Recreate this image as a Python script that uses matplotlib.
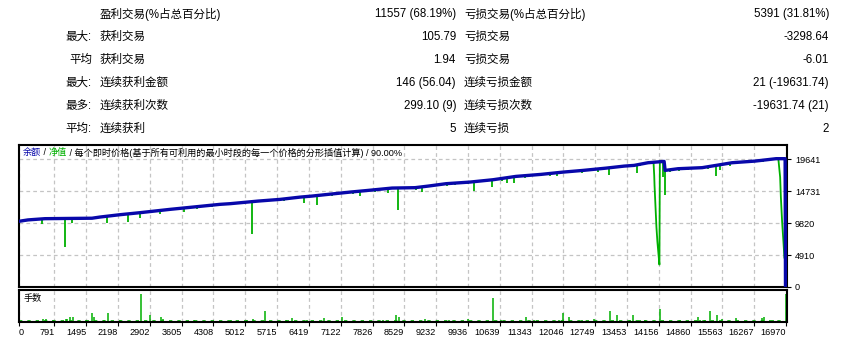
import numpy as np
import matplotlib.pyplot as plt

plt.rcParams['font.family'] = ['Liberation Sans', 'Noto Sans CJK SC', 'DejaVu Sans']

# Tableau du haut
row_prefix = ['', '最大:', '平均', '最大:', '最多:', '平均:']
win_labels = ['盈利交易(%占总百分比)', '获利交易', '获利交易', '连续获利金额', '连续获利次数', '连续获利']
win_values = ['11557 (68.19%)', '105.79', '1.94', '146 (56.04)', '299.10 (9)', '5']
loss_labels = ['亏损交易(%占总百分比)', '亏损交易', '亏损交易', '连续亏损金额', '连续亏损次数', '连续亏损']
loss_values = ['5391 (31.81%)', '-3298.64', '-6.01', '21 (-19631.74)', '-19631.74 (21)', '2']

# Courbe du solde (余额)
bal_x = [0, 206, 582, 1621, 1798, 2241, 2683, 3347, 4010, 4453, 4674, 5293, 5780, 6223,
         6488, 6842, 7329, 7727, 8258, 8766, 9054, 9452, 9983, 10492, 10997, 11553,
         12040, 12482, 12991, 13389, 13610, 13920, 14274, 14296, 14583, 15114, 15424,
         15778, 16287, 16751, 16950, 16958]
bal_y = [10080, 10300, 10490, 10560, 10740, 11100, 11410, 11920, 12380, 12690, 12790,
         13190, 13450, 13800, 13960, 14220, 14570, 14830, 15190, 15250, 15490, 15860,
         16110, 16470, 16980, 17290, 17640, 17900, 18250, 18560, 18670, 19080, 19280,
         17900, 18160, 18320, 18670, 19080, 19330, 19700, 19700, 0]

# Creux de l'equite (净值)
dip_x = [522, 870, 1024, 1186, 1645, 1960, 2287, 2424, 2690, 3126, 3656, 3945, 4280,
         5161, 5875, 6317, 6598, 6924, 7395, 7550, 7881, 8176, 8397, 8788, 8914, 9467,
         9651, 9945, 10078, 10476, 10684, 10808, 10963, 11199, 11752, 11900, 12453,
         12820, 13064, 13560, 13670, 13743, 13817, 14258, 14290, 14413, 14613, 14812,
         14997, 15254, 15424, 15512, 15734, 16471]
dip_low = [9730, 10250, 6140, 9820, 10400, 9820, 10850, 9925, 10590, 11250, 11510, 11950,
           12350, 8085, 13150, 12890, 12530, 13950, 14250, 13960, 14600, 14420, 11770,
           14950, 14570, 15500, 15650, 15850, 14730, 15340, 16250, 15950, 15950, 16700,
           17050, 17100, 17500, 17700, 17130, 18400, 17490, 18650, 18750, 16870, 14070,
           17650, 17850, 17950, 18050, 18150, 17030, 17900, 18600, 19150]

# Deux baisses lentes de l'equite
dd1_x = [14040, 14055, 14062, 14082, 14104, 14126, 14157, 14170, 14180]
dd1_y = [19080, 17130, 15610, 12530, 9200, 6900, 4450, 3440, 19280]
dd2_x = [16800, 16818, 16840, 16856, 16884, 16913, 16935, 16950, 16958]
dd2_y = [19700, 18410, 16870, 13800, 9970, 6900, 4450, 4450, 0]

# Lots (手数)
lot_x = [537, 597, 765, 1046, 1075, 1141, 1208, 1482, 1628, 1672, 1893, 1982, 2241, 2705,
         2911, 3148, 3185, 3871, 4689, 5057, 5189, 5455, 5906, 6052, 6377, 6760, 7158,
         8065, 8346, 8419, 8994, 9525, 9945, 10498, 10669, 11228, 11405, 11958, 12040,
         12179, 12453, 12732, 13080, 13241, 13522, 13595, 13743, 13854, 14192, 14628,
         15033, 15070, 15181, 15298, 15453, 15550, 15867, 16435, 16486, 16692, 16965]
lot_v = [0.10, 0.10, 0.09, 0.12, 0.12, 0.19, 0.19, 0.09, 0.34, 0.19, 0.09, 0.34, 0.09, 1.0,
         0.26, 0.19, 0.12, 0.09, 0.09, 0.09, 0.12, 0.41, 0.09, 0.16, 0.09, 0.16, 0.19,
         0.09, 0.26, 0.19, 0.12, 0.09, 0.12, 0.84, 0.09, 0.19, 0.09, 0.09, 0.34,
         0.19, 0.09, 0.12, 0.41, 0.26, 0.09, 0.26, 0.09, 0.09, 0.48, 0.09,
         0.19, 0.09, 0.09, 0.41, 0.26, 0.12, 0.16, 0.16, 0.19, 0.09, 1.0]
min_lot = 0.06
last_trade = 16930

x_ticks = [0, 791, 1495, 2198, 2902, 3605, 4308, 5012, 5715, 6419, 7122, 7826, 8529, 9232,
           9936, 10639, 11343, 12046, 12749, 13453, 14156, 14860, 15563, 16267, 16970]
y_ticks = [0, 4910, 9820, 14731, 19641]

blue = '#0808aa'
green = '#00b000'
grid_kw = dict(color='#c4c4c4', linestyle=(0, (3, 2.5)), linewidth=0.9)

fig = plt.figure(figsize=(8.45, 3.41), dpi=100)

# Texte du tableau
row_y = [14, 37, 60, 83, 106, 129]
for i in range(6):
    y = 1 - row_y[i] / 341
    fig.text(92 / 845, y, row_prefix[i], ha='right', va='center', fontsize=8.3)
    fig.text(100 / 845, y, win_labels[i], ha='left', va='center', fontsize=8.3)
    fig.text(456 / 845, y, win_values[i], ha='right', va='center', fontsize=8.3)
    fig.text(464 / 845, y, loss_labels[i], ha='left', va='center', fontsize=8.3)
    fig.text(829 / 845, y, loss_values[i], ha='right', va='center', fontsize=8.3)

# Graphique principal
ax = fig.add_axes([18.7 / 845, 1 - 287 / 341, 768 / 845, 142 / 341])
ax.vlines(dip_x, dip_low, np.interp(dip_x, bal_x, bal_y), color=green, linewidth=1.3, zorder=2)
ax.plot(dd1_x, dd1_y, color=green, linewidth=1.3, zorder=2)
ax.plot(dd2_x, dd2_y, color=green, linewidth=1.3, zorder=2)
ax.plot(bal_x, bal_y, color=blue, linewidth=2.4, zorder=3)
ax.set_xlim(0, 16985)
ax.set_ylim(0, 21800)
ax.set_xticks(x_ticks)
ax.set_yticks(y_ticks)
ax.yaxis.tick_right()
ax.tick_params(axis='x', length=0, labelbottom=False)
ax.tick_params(axis='y', length=3, pad=3, labelsize=6.6)
ax.grid(True, **grid_kw)
for s in ax.spines.values():
    s.set_linewidth(1.5)

# Titre dans le graphique, en couleurs
t = ax.text(0.005, 0.946, '余额', color=blue, fontsize=6.6, va='center', transform=ax.transAxes)
for txt, col in [(' / ', 'black'), ('净值', green),
                 (' / 每个即时价格(基于所有可利用的最小时段的每一个价格的分形插值计算) / 90.00%', 'black')]:
    t = ax.annotate(txt, xy=(1, 0.5), xycoords=t, va='center', ha='left', fontsize=6.6, color=col)

# Panneau des lots
ax2 = fig.add_axes([18.7 / 845, 1 - 322.3 / 341, 768 / 845, 32.6 / 341])
ax2.vlines(lot_x, 0, lot_v, color=green, linewidth=1.1)
ax2.plot([0, last_trade], [min_lot, min_lot], color=green, linewidth=1.2, linestyle=(0, (2, 3)))
ax2.set_xlim(0, 16985)
ax2.set_ylim(0, 1.14)
ax2.set_yticks([])
ax2.set_xticks(x_ticks)
ax2.set_xticklabels([str(v) for v in x_ticks])
ax2.tick_params(axis='x', length=3, pad=1, labelsize=6.6)
for i, lbl in enumerate(ax2.get_xticklabels()):
    lbl.set_ha('left' if i == 0 else 'right')
ax2.grid(True, axis='x', **grid_kw)
for s in ax2.spines.values():
    s.set_linewidth(1.5)
ax2.text(0.006, 0.72, '手数', fontsize=6.6, va='center', transform=ax2.transAxes)

fig.savefig('out.png', dpi=100)
